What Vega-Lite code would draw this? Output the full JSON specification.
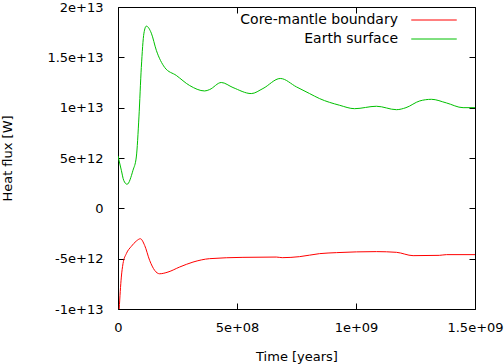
{
  "$schema": "https://vega.github.io/schema/vega-lite/v6.json",
  "width": 357,
  "height": 302,
  "autosize": "none",
  "padding": {"left": 118, "top": 7, "right": 29, "bottom": 55},
  "background": "white",
  "config": {
    "view": {"stroke": "black", "strokeWidth": 1},
    "font": "DejaVu Sans",
    "axis": {
      "grid": false,
      "domain": false,
      "tickColor": "black",
      "tickSize": -6,
      "tickWidth": 1,
      "labelFont": "DejaVu Sans",
      "labelFontSize": 13,
      "labelColor": "black",
      "titleFont": "DejaVu Sans",
      "titleFontSize": 13,
      "titleFontWeight": "normal",
      "titleColor": "black"
    }
  },
  "data": {
    "values": [
      {"t": 5000000, "q": -10000000000000, "series": "Core-mantle boundary"},
      {"t": 14000000, "q": -6830000000000, "series": "Core-mantle boundary"},
      {"t": 21000000, "q": -5500000000000, "series": "Core-mantle boundary"},
      {"t": 35000000, "q": -4500000000000, "series": "Core-mantle boundary"},
      {"t": 56000000, "q": -3780000000000, "series": "Core-mantle boundary"},
      {"t": 77000000, "q": -3250000000000, "series": "Core-mantle boundary"},
      {"t": 94000000, "q": -3020000000000, "series": "Core-mantle boundary"},
      {"t": 112000000, "q": -3680000000000, "series": "Core-mantle boundary"},
      {"t": 133000000, "q": -5170000000000, "series": "Core-mantle boundary"},
      {"t": 154000000, "q": -6160000000000, "series": "Core-mantle boundary"},
      {"t": 175000000, "q": -6500000000000, "series": "Core-mantle boundary"},
      {"t": 210000000, "q": -6330000000000, "series": "Core-mantle boundary"},
      {"t": 259000000, "q": -5830000000000, "series": "Core-mantle boundary"},
      {"t": 315000000, "q": -5340000000000, "series": "Core-mantle boundary"},
      {"t": 385000000, "q": -5000000000000, "series": "Core-mantle boundary"},
      {"t": 525000000, "q": -4870000000000, "series": "Core-mantle boundary"},
      {"t": 665000000, "q": -4840000000000, "series": "Core-mantle boundary"},
      {"t": 690000000, "q": -4900000000000, "series": "Core-mantle boundary"},
      {"t": 763000000, "q": -4800000000000, "series": "Core-mantle boundary"},
      {"t": 847000000, "q": -4500000000000, "series": "Core-mantle boundary"},
      {"t": 918000000, "q": -4400000000000, "series": "Core-mantle boundary"},
      {"t": 1086000000, "q": -4300000000000, "series": "Core-mantle boundary"},
      {"t": 1170000000, "q": -4370000000000, "series": "Core-mantle boundary"},
      {"t": 1240000000, "q": -4700000000000, "series": "Core-mantle boundary"},
      {"t": 1350000000, "q": -4670000000000, "series": "Core-mantle boundary"},
      {"t": 1380000000, "q": -4600000000000, "series": "Core-mantle boundary"},
      {"t": 1500000000, "q": -4600000000000, "series": "Core-mantle boundary"},
      {"t": 0, "q": 5200000000000, "series": "Earth surface"},
      {"t": 14000000, "q": 3780000000000, "series": "Earth surface"},
      {"t": 24000000, "q": 2780000000000, "series": "Earth surface"},
      {"t": 38000000, "q": 2390000000000, "series": "Earth surface"},
      {"t": 63000000, "q": 3780000000000, "series": "Earth surface"},
      {"t": 77000000, "q": 5100000000000, "series": "Earth surface"},
      {"t": 88000000, "q": 9080000000000, "series": "Earth surface"},
      {"t": 98000000, "q": 14000000000000, "series": "Earth surface"},
      {"t": 109000000, "q": 17400000000000, "series": "Earth surface"},
      {"t": 119000000, "q": 18100000000000, "series": "Earth surface"},
      {"t": 140000000, "q": 17400000000000, "series": "Earth surface"},
      {"t": 161000000, "q": 15700000000000, "series": "Earth surface"},
      {"t": 196000000, "q": 14000000000000, "series": "Earth surface"},
      {"t": 245000000, "q": 13200000000000, "series": "Earth surface"},
      {"t": 301000000, "q": 12200000000000, "series": "Earth surface"},
      {"t": 364000000, "q": 11660000000000, "series": "Earth surface"},
      {"t": 385000000, "q": 11800000000000, "series": "Earth surface"},
      {"t": 434000000, "q": 12500000000000, "series": "Earth surface"},
      {"t": 483000000, "q": 12000000000000, "series": "Earth surface"},
      {"t": 560000000, "q": 11400000000000, "series": "Earth surface"},
      {"t": 609000000, "q": 11900000000000, "series": "Earth surface"},
      {"t": 682000000, "q": 12900000000000, "series": "Earth surface"},
      {"t": 750000000, "q": 12060000000000, "series": "Earth surface"},
      {"t": 805000000, "q": 11400000000000, "series": "Earth surface"},
      {"t": 847000000, "q": 10900000000000, "series": "Earth surface"},
      {"t": 931000000, "q": 10240000000000, "series": "Earth surface"},
      {"t": 994000000, "q": 9900000000000, "series": "Earth surface"},
      {"t": 1086000000, "q": 10140000000000, "series": "Earth surface"},
      {"t": 1170000000, "q": 9800000000000, "series": "Earth surface"},
      {"t": 1210000000, "q": 10000000000000, "series": "Earth surface"},
      {"t": 1268000000, "q": 10670000000000, "series": "Earth surface"},
      {"t": 1317000000, "q": 10830000000000, "series": "Earth surface"},
      {"t": 1380000000, "q": 10470000000000, "series": "Earth surface"},
      {"t": 1450000000, "q": 10000000000000, "series": "Earth surface"},
      {"t": 1500000000, "q": 10000000000000, "series": "Earth surface"}
    ]
  },
  "layer": [
    {
      "mark": {"type": "line", "strokeWidth": 1, "interpolate": "monotone", "clip": true},
      "encoding": {
        "x": {
          "field": "t", "type": "quantitative",
          "scale": {"domain": [0, 1500000000], "nice": false},
          "axis": {"values": [0, 500000000, 1000000000, 1500000000], "labelExpr": "datum.value == 0 ? '0' : datum.value == 500000000 ? '5e+08' : datum.value == 1000000000 ? '1e+09' : '1.5e+09'", "labelPadding": 18, "title": "Time [years]", "titlePadding": 16, "labelFlush": false}
        },
        "y": {
          "field": "q", "type": "quantitative",
          "scale": {"domain": [-10000000000000, 20000000000000], "nice": false, "zero": false},
          "axis": {"values": [-10000000000000, -5000000000000, 0, 5000000000000, 10000000000000, 15000000000000, 20000000000000], "labelExpr": "datum.value == 0 ? '0' : datum.value == 20000000000000 ? '2e+13' : datum.value == 15000000000000 ? '1.5e+13' : datum.value == 10000000000000 ? '1e+13' : datum.value == 5000000000000 ? '5e+12' : datum.value == -5000000000000 ? '-5e+12' : '-1e+13'", "labelPadding": 21, "title": "Heat flux [W]", "titlePadding": 32, "labelFlush": false}
        },
        "color": {
          "field": "series", "type": "nominal",
          "scale": {"domain": ["Core-mantle boundary", "Earth surface"], "range": ["#ff0000", "#00c000"]},
          "legend": {
            "title": null,
            "orient": "none",
            "legendX": 309,
            "legendY": 6,
            "padding": 0,
            "symbolType": "M-3.5,0H3.5",
            "symbolSize": 169,
            "symbolStrokeWidth": 1,
            "symbolFillColor": "transparent",
            "labelAlign": "right",
            "labelOffset": -43,
            "labelFont": "DejaVu Sans",
            "labelFontSize": 14,
            "labelColor": "black",
            "rowPadding": 5,
            "labelLimit": 300
          }
        }
      }
    },
    {
      "mark": {"type": "line", "strokeOpacity": 0},
      "encoding": {
        "x": {"field": "t", "type": "quantitative", "axis": {"orient": "top", "values": [0, 500000000, 1000000000, 1500000000], "labels": false, "title": null}},
        "y": {"field": "q", "type": "quantitative", "axis": {"orient": "right", "values": [-10000000000000, -5000000000000, 0, 5000000000000, 10000000000000, 15000000000000, 20000000000000], "labels": false, "title": null}},
        "detail": {"field": "series"}
      }
    }
  ],
  "resolve": {"axis": {"x": "independent", "y": "independent"}}
}
